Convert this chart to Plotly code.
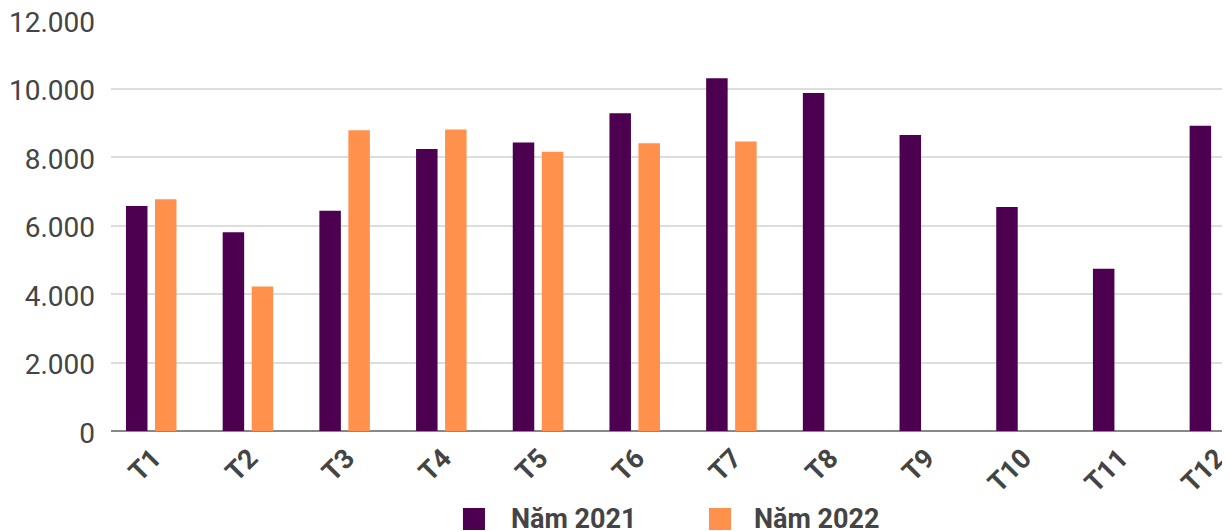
import plotly.graph_objects as go

months = ["T1", "T2", "T3", "T4", "T5", "T6", "T7", "T8", "T9", "T10", "T11", "T12"]
y2021 = [6570, 5800, 6430, 8230, 8420, 9280, 10300, 9870, 8640, 6540, 4740, 8910]
y2022 = [6770, 4220, 8780, 8800, 8150, 8400, 8450, None, None, None, None, None]
names = ["Năm 2021", "Năm 2022"]
colors = ["#4D004F", "#FF914D"]

fig = go.Figure()
for vals, name, col in zip([y2021, y2022], names, colors):
    fig.add_trace(go.Bar(x=months, y=vals, name=name,
                         marker=dict(color=col, line=dict(width=0)), showlegend=False))

# legend drawn as squares + labels below the plot (paper coordinates)
leg_x0 = [0.3148, 0.5349]
leg_w = 0.0197
leg_y = (-0.2409, -0.1873)
leg_tx = [0.356, 0.5733]
for name, col, x0, tx in zip(names, colors, leg_x0, leg_tx):
    fig.add_shape(type="rect", xref="paper", yref="paper", x0=x0, x1=x0 + leg_w,
                  y0=leg_y[0], y1=leg_y[1], fillcolor=col, line=dict(width=0))
    fig.add_annotation(xref="paper", yref="paper", x=tx, y=-0.2141, xanchor="left",
                       yanchor="middle", text=name, showarrow=False,
                       font=dict(size=27, family="Roboto", weight="bold", color="#444444"))

fig.update_layout(
    width=1222, height=523,
    margin=dict(l=103, r=1, t=12, b=100),
    paper_bgcolor="white", plot_bgcolor="white",
    separators=",.",
    bargap=0.40, bargroupgap=0.259,
    showlegend=False,
    font=dict(family="Roboto", color="#444444"),
    xaxis=dict(type="category", range=[-0.416, 11.146], tickangle=-45, automargin=False,
               tickfont=dict(size=27, family="Roboto", weight="bold", color="#444444"),
               showgrid=False, showline=False, ticks="", zeroline=False, ticklabelstandoff=5,
               ticklabelshift=2, ticklabeloverflow="allow"),
    yaxis=dict(range=[0, 12000], dtick=2000, tickformat=",d", automargin=False,
               tickfont=dict(size=28, family="Roboto", color="#444444"),
               gridcolor="#DDDDDD", gridwidth=1.5, zeroline=True, zerolinecolor="#888888",
               zerolinewidth=2, showline=False, ticklabelstandoff=15, ticklabelshift=2,
               ticklabeloverflow="allow"),
)

fig.write_html("out.html")
